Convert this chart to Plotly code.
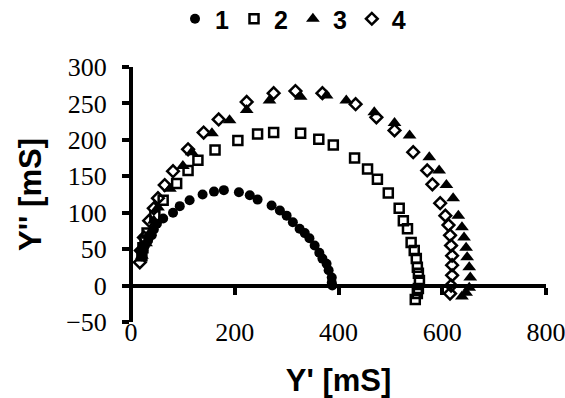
import plotly.graph_objects as go

# Series 1 (filled circles)
s1_x = [21, 23, 27, 33, 40, 44, 50, 62, 81, 94, 113, 138, 160, 179, 208, 229, 244, 271, 287, 300,
        312, 325, 335, 344, 354, 363, 369, 377, 381, 387, 387, 388]
s1_y = [40, 48, 55, 62, 69, 77, 85, 92, 100, 109, 117, 125, 129, 131, 128, 124, 118, 110, 103, 96,
        87, 78, 72, 65, 55, 45, 37, 30, 21, 11, 4, 0]
# Series 2 (open squares)
s2_x = [21, 23, 27, 31, 46, 62, 88, 110, 129, 162, 206, 244, 275, 327, 362, 390, 431, 456, 475, 496,
        517, 525, 533, 540, 546, 550, 552, 554, 556, 554, 552, 548]
s2_y = [41, 52, 62, 72, 96, 117, 140, 158, 172, 186, 199, 208, 210, 209, 201, 193, 175, 160, 146, 127,
        106, 89, 78, 59, 48, 37, 25, 17, 7, -4, -11, -19]
# Series 3 (filled triangles)
s3_x = [21, 29, 37, 44, 52, 75, 100, 117, 156, 190, 223, 267, 327, 377, 415, 469, 508, 537, 575, 594,
        608, 621, 631, 638, 642, 646, 648, 652, 654, 652, 646, 638]
s3_y = [41, 58, 73, 89, 107, 133, 164, 183, 209, 227, 241, 254, 259, 261, 254, 238, 223, 206, 176, 158,
        138, 120, 96, 80, 66, 52, 39, 25, 11, -3, -10, -15]
# Series 4 (open diamonds)
s4_x = [17, 19, 25, 35, 44, 52, 65, 81, 110, 140, 169, 223, 275, 317, 369, 433, 473, 508, 544, 571,
        581, 596, 606, 612, 615, 617, 619, 619, 619, 617, 615]
s4_y = [32, 48, 66, 89, 106, 120, 138, 157, 187, 210, 228, 252, 264, 267, 264, 249, 231, 213, 183, 158,
        139, 113, 96, 83, 69, 55, 41, 28, 14, 0, -11]

names = ["1", "2", "3", "4"]
x_ticks = [0, 200, 400, 600, 800]
y_ticks = [-50, 0, 50, 100, 150, 200, 250, 300]

fig = go.Figure()
fig.add_trace(go.Scatter(x=s1_x, y=s1_y, mode="markers", name=names[0],
                         marker=dict(symbol="circle", size=10, color="black")))
fig.add_trace(go.Scatter(x=s2_x, y=s2_y, mode="markers", name=names[1],
                         marker=dict(symbol="square-open", size=9, color="black", line=dict(width=2.5))))
fig.add_trace(go.Scatter(x=s3_x, y=s3_y, mode="markers", name=names[2],
                         marker=dict(symbol="triangle-up", size=12, color="black")))
fig.add_trace(go.Scatter(x=s4_x, y=s4_y, mode="markers", name=names[3],
                         marker=dict(symbol="diamond-open", size=9, color="black", line=dict(width=2.5))))

tick_font = dict(family="Liberation Serif, DejaVu Serif, Times New Roman, serif", size=26, color="black")
title_font = dict(family="Liberation Sans", size=31, color="black", weight="bold")

fig.update_layout(
    template="none",
    width=565, height=398,
    margin=dict(l=131, r=19, t=67, b=76, autoexpand=False),
    paper_bgcolor="white", plot_bgcolor="white",
    showlegend=True,
    legend=dict(orientation="h", x=293 / 565, xref="container", xanchor="center",
                y=1 - 19 / 398, yref="container", yanchor="middle",
                font=dict(family="Liberation Sans", size=25, color="black", weight="bold"),
                itemwidth=30, itemsizing="trace"),
    xaxis=dict(range=[0, 800], tickvals=x_ticks, showgrid=False, zeroline=False,
               automargin=False,
               showline=True, linewidth=4, linecolor="black",
               ticks="outside", ticklen=7, tickwidth=4, tickcolor="black",
               anchor="free", position=50 / 350, ticklabelstandoff=15,
               ticklabeloverflow="allow",
               tickfont=tick_font,
               title=dict(text="Y' [mS]", font=title_font, standoff=24)),
    yaxis=dict(range=[-50, 300], tickvals=y_ticks, showgrid=False, zeroline=False,
               automargin=False,
               showline=True, linewidth=4, linecolor="black",
               ticks="outside", ticklen=7, tickwidth=4, tickcolor="black",
               anchor="free", position=0, ticklabelstandoff=10,
               tickfont=tick_font,
               title=dict(text="Y'' [mS]", font=title_font, standoff=14)),
)

fig.write_html("out.html")
